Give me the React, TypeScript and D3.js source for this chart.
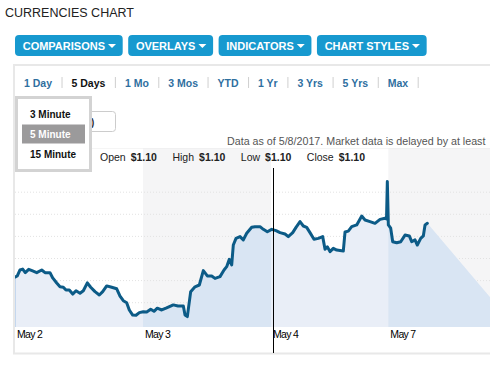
import React, { useMemo } from "react";
import * as d3 from "d3";

const W = 490;
const H = 368;

const toolbarButtons = ["COMPARISONS", "OVERLAYS", "INDICATORS", "CHART STYLES"];
const rangeTabs = ["1 Day", "5 Days", "1 Mo", "3 Mos", "YTD", "1 Yr", "3 Yrs", "5 Yrs", "Max"];
const activeTab = "5 Days";
const intervalOptions = ["3 Minute", "5 Minute", "15 Minute"];
const activeInterval = "5 Minute";
const ohlcLabels = ["Open", "High", "Low", "Close"];
const ohlcValues = ["$1.10", "$1.10", "$1.10", "$1.10"];
const dayLabels = ["May 2", "May 3", "May 4", "May 7"];
const dayStartHours = [0, 24, 48, 70];
const shadedDays = [1, 3];
const gridPrices = [1.093, 1.094, 1.095, 1.096, 1.097, 1.098];
const crosshairHour = 48.4;
const areaTailHour = 93.8;

// hours since May 2 open, and the price at that moment
const hours = [
  0, 0.43, 0.94, 1.44, 1.93, 2.57, 3.19, 4.07, 5.01, 5.63, 6.56, 7.07, 7.82, 8.44, 9.06, 9.56,
  10.18, 10.82, 11.44, 12.19, 12.81, 13.56, 14.19, 15.0, 15.81, 16.44, 17.19, 18.13, 19.07, 19.69,
  20.31, 20.94, 21.43, 22.07, 22.69, 23.31, 24.06, 24.69, 25.44, 26.06, 26.68, 27.51, 28.31, 29.06,
  29.68, 30.56, 31.56, 31.88, 32.31, 32.94, 33.75, 34.56, 35.31, 36.06, 36.88, 37.5, 38.44, 39.19,
  39.69, 40.18, 40.63, 40.93, 41.44, 42.19, 42.81, 43.44, 44.38, 45.0, 45.94, 46.56, 47.31, 48.13,
  48.94, 49.69, 50.63, 51.24, 52.07, 52.69, 53.44, 54.06, 54.69, 55.31, 56.06, 56.87, 57.69, 58.13,
  58.56, 59.06, 59.68, 60.32, 61.56, 61.88, 62.49, 63.13, 64.07, 65.01, 65.63, 66.56, 67.5, 68.44,
  69.38, 69.66, 69.81, 70.0, 70.44, 70.82, 71.57, 72.32, 73.13, 73.93, 74.38, 75.0, 75.43, 76.07,
  76.56, 76.88, 77.31,
];
const prices = [
  1.09416, 1.09421, 1.09448, 1.09452, 1.09436, 1.09451, 1.09445, 1.09436, 1.09448, 1.09436, 1.09436,
  1.09412, 1.09389, 1.09372, 1.0937, 1.09357, 1.09357, 1.09339, 1.09354, 1.09343, 1.09354, 1.0939,
  1.0937, 1.0935, 1.09335, 1.0935, 1.09376, 1.0937, 1.09363, 1.0933, 1.09309, 1.093, 1.09267,
  1.09244, 1.09243, 1.09255, 1.09259, 1.09258, 1.0927, 1.09261, 1.09275, 1.09267, 1.09275, 1.09283,
  1.0929, 1.09285, 1.09285, 1.09244, 1.09237, 1.0935, 1.09372, 1.0938, 1.09445, 1.09421, 1.09421,
  1.0941, 1.09418, 1.09448, 1.09463, 1.09496, 1.09471, 1.09561, 1.09591, 1.09599, 1.09584, 1.09614,
  1.09641, 1.09644, 1.09644, 1.09632, 1.09621, 1.09632, 1.09626, 1.09617, 1.09611, 1.09599, 1.09617,
  1.09641, 1.09667, 1.09647, 1.09641, 1.09617, 1.09587, 1.09591, 1.09599, 1.09542, 1.09553, 1.09531,
  1.09546, 1.09538, 1.09534, 1.0962, 1.09624, 1.09644, 1.09652, 1.09692, 1.09674, 1.09667, 1.09659,
  1.09677, 1.09682, 1.09679, 1.09848, 1.09652, 1.09637, 1.09576, 1.09571, 1.09576, 1.09606, 1.09602,
  1.09576, 1.09584, 1.09561, 1.09591, 1.09602, 1.09652, 1.09659,
];

const FONT = "Arial, 'Liberation Sans', sans-serif";

let measureCtx: CanvasRenderingContext2D | null = null;
function textWidth(s: string, font: string) {
  if (!measureCtx) measureCtx = document.createElement("canvas").getContext("2d");
  measureCtx!.font = font;
  return measureCtx!.measureText(s).width;
}

export default function App() {
  const plot = { left: 15, right: 490, top: 148, bottom: 327 };

  const x = d3.scaleLinear().domain([0, 89.06]).range([plot.left, plot.right]);
  const y = d3.scaleLinear().domain([1.0919, 1.1]).range([plot.bottom, plot.top]);

  const points = hours.map((h, i) => ({ h, p: prices[i] }));
  const linePath = d3
    .line<{ h: number; p: number }>()
    .x((d) => x(d.h))
    .y((d) => y(d.p))(points)!;
  const areaPath = d3
    .area<{ h: number; p: number }>()
    .x((d) => x(d.h))
    .y0(plot.bottom)
    .y1((d) => y(d.p))([...points, { h: areaTailHour, p: y.domain()[0] }])!;

  const dayEnds = [...dayStartHours.slice(1), x.domain()[1]];

  // toolbar layout from measured text
  const buttons = useMemo(() => {
    let bx = 15;
    return toolbarButtons.map((b) => {
      const tw = textWidth(b, `bold 11px ${FONT}`);
      const w = tw + 25.4;
      const r = { label: b, x: bx, w, tw };
      bx += w + 5.5;
      return r;
    });
  }, []);

  const tabs = useMemo(() => {
    let tx = 24;
    return rangeTabs.map((t) => {
      const tw = textWidth(t, `bold 10.5px ${FONT}`);
      const r = { label: t, x: tx, sep: tx + tw + 10 };
      tx = r.sep + 9.5;
      return r;
    });
  }, []);

  const ohlc = useMemo(() => {
    let ox = 100;
    return ohlcLabels.map((l, i) => {
      const lw = textWidth(l, `10.5px ${FONT}`);
      const vw = textWidth(ohlcValues[i], `bold 10.5px ${FONT}`);
      const r = { label: l, value: ohlcValues[i], lx: ox, vx: ox + lw + 5 };
      ox = r.vx + vw + 15.5;
      return r;
    });
  }, []);

  return (
    <svg
      width={W}
      height={H}
      style={{ position: "absolute", left: 0, top: 0, background: "#fff", fontFamily: FONT }}
    >
      <defs>
        <clipPath id="plotClip">
          <rect x={plot.left} y={plot.top} width={plot.right - plot.left} height={plot.bottom - plot.top} />
        </clipPath>
        <clipPath id="shadeClip">
          {shadedDays.map((d) => (
            <rect
              key={d}
              x={x(dayStartHours[d])}
              y={plot.top}
              width={x(dayEnds[d]) - x(dayStartHours[d])}
              height={plot.bottom - plot.top}
            />
          ))}
        </clipPath>
      </defs>

      {/* title */}
      <text x={5} y={16.5} fontSize={12.5} fill="#222">
        CURRENCIES CHART
      </text>

      {/* toolbar buttons */}
      {buttons.map((b) => (
        <g key={b.label}>
          <rect x={b.x} y={35} width={b.w} height={21} rx={4} fill="#1799cf" />
          <text x={b.x + 7.7} y={49.5} fontSize={11} fontWeight="bold" fill="#fff">
            {b.label}
          </text>
          <path d={`M${b.x + 7.7 + b.tw + 3},${44} l8,0 l-4,4 z`} fill="#fff" />
        </g>
      ))}

      {/* panel frame */}
      <line x1={13} x2={W} y1={65} y2={65} stroke="#e8e8e8" strokeWidth={2} />
      <line x1={14} x2={14} y1={64} y2={354} stroke="#e8e8e8" strokeWidth={2} />
      <line x1={13} x2={W} y1={353.5} y2={353.5} stroke="#e8e8e8" strokeWidth={2} />

      {/* range tabs */}
      {tabs.map((t) => (
        <g key={t.label}>
          <text
            x={t.x}
            y={86.5}
            fontSize={10.5}
            fontWeight="bold"
            fill={t.label === activeTab ? "#111" : "#2f6f9f"}
          >
            {t.label}
          </text>
          <line x1={t.sep} x2={t.sep} y1={77} y2={88} stroke="#cfcfcf" />
        </g>
      ))}

      {/* status text */}
      <text x={227} y={144.5} fontSize={10.7} fill="#555">
        Data as of 5/8/2017. Market data is delayed by at least
      </text>

      {/* plot */}
      <g clipPath="url(#plotClip)">
        {shadedDays.map((d) => (
          <rect
            key={d}
            x={x(dayStartHours[d])}
            y={plot.top}
            width={x(dayEnds[d]) - x(dayStartHours[d])}
            height={plot.bottom - plot.top}
            fill="#f5f5f6"
          />
        ))}
        <line x1={plot.left} x2={plot.right} y1={plot.top} y2={plot.top} stroke="#ececec" />
        {gridPrices.map((g) => (
          <line
            key={g}
            x1={plot.left}
            x2={plot.right}
            y1={y(g)}
            y2={y(g)}
            stroke="#e2e2e2"
            strokeDasharray="1 2"
          />
        ))}
        <path d={areaPath} fill="#e9eef7" />
        <path d={areaPath} fill="#d9e5f3" clipPath="url(#shadeClip)" />
        <line
          x1={plot.left + 0.5}
          x2={plot.left + 0.5}
          y1={y(prices[0])}
          y2={plot.bottom}
          stroke="#c4d7ee"
        />
        <path
          d={linePath}
          fill="none"
          stroke="#0c5b87"
          strokeWidth={3}
          strokeLinejoin="round"
          strokeLinecap="round"
        />
      </g>

      {/* OHLC readout */}
      {ohlc.map((o) => (
        <g key={o.label} fontSize={10.5} fill="#222">
          <text x={o.lx} y={161}>
            {o.label}
          </text>
          <text x={o.vx} y={161} fontWeight="bold">
            {o.value}
          </text>
        </g>
      ))}

      {/* day labels */}
      {dayLabels.map((l, i) => (
        <text
          key={l}
          x={x(dayStartHours[i]) + 2}
          y={337.5}
          fontSize={10.5}
          letterSpacing={-0.7}
          fill="#000"
        >
          {l}
        </text>
      ))}

      {/* crosshair */}
      <line
        x1={Math.round(x(crosshairHour)) + 0.5}
        x2={Math.round(x(crosshairHour)) + 0.5}
        y1={168}
        y2={353}
        stroke="#000"
      />

      {/* interval input (partly hidden) */}
      <rect x={87.5} y={111.5} width={28} height={20} rx={3} fill="#fff" stroke="#cccccc" />
      <text x={91} y={126} fontSize={10} fontWeight="bold" fill="#333">
        )
      </text>

      {/* interval dropdown */}
      <rect x={16.5} y={97.5} width={74} height={73} fill="#fff" stroke="#d3d3d3" strokeWidth={3} />
      {intervalOptions.map((o, i) => {
        const active = o === activeInterval;
        return (
          <g key={o}>
            {active && <rect x={22} y={124.5} width={63} height={19} fill="#9b9a9b" />}
            <text
              x={30}
              y={117.5 + i * 20}
              fontSize={10}
              fontWeight="bold"
              fill={active ? "#fff" : "#111"}
            >
              {o}
            </text>
          </g>
        );
      })}
    </svg>
  );
}
